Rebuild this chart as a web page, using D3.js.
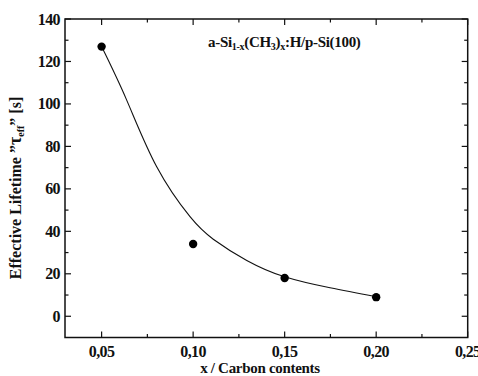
<!DOCTYPE html>
<html><head><meta charset="utf-8">
<script src="https://cdn.jsdelivr.net/npm/d3@7"></script>
<style>
body{margin:0;background:#fff;}
</style></head>
<body><svg id="c" width="478" height="376"></svg>
<script>
// data
const carbonX = [0.05, 0.10, 0.15, 0.20];
const lifetime = [127, 34, 18, 9];
const fitX = [0.05, 0.0637, 0.0801, 0.0983, 0.111, 0.1293, 0.15, 0.1748, 0.20];
const fitY = [127, 101.8, 70.4, 46.9, 36.3, 26.3, 18.6, 13.4, 9.2];
const xTicks = [0.05, 0.10, 0.15, 0.20, 0.25];
const xTickLabels = ["0,05", "0,10", "0,15", "0,20", "0,25"];
const xMinor = [0.075, 0.125, 0.175, 0.225];
const yTicks = [0, 20, 40, 60, 80, 100, 120, 140];
const yMinor = [10, 30, 50, 70, 90, 110, 130];

const FONT = "Liberation Serif";
const svg = d3.select("#c");
const L = 65, R = 467.7, T = 19, B = 337.5;
const x = d3.scaleLinear().domain([0.03, 0.25]).range([L, R]);
const y = d3.scaleLinear().domain([-10, 140]).range([B, T]);

function txt(sel) {
  return sel.attr("font-family", FONT).attr("font-weight", "bold").attr("fill", "#111");
}

// frame
svg.append("rect").attr("x", L).attr("y", T).attr("width", R - L).attr("height", B - T)
  .attr("fill", "none").attr("stroke", "#111").attr("stroke-width", 1.5);

const g = svg.append("g").attr("stroke", "#111").attr("stroke-width", 1.2);
xTicks.forEach(v => {
  g.append("line").attr("x1", x(v)).attr("x2", x(v)).attr("y1", B).attr("y2", B - 6);
  g.append("line").attr("x1", x(v)).attr("x2", x(v)).attr("y1", T).attr("y2", T + 6);
});
xMinor.forEach(v => {
  g.append("line").attr("x1", x(v)).attr("x2", x(v)).attr("y1", B).attr("y2", B - 3.5);
  g.append("line").attr("x1", x(v)).attr("x2", x(v)).attr("y1", T).attr("y2", T + 3.5);
});
yTicks.forEach(v => {
  g.append("line").attr("x1", L).attr("x2", L + 6).attr("y1", y(v)).attr("y2", y(v));
  g.append("line").attr("x1", R).attr("x2", R - 6).attr("y1", y(v)).attr("y2", y(v));
});
yMinor.forEach(v => {
  g.append("line").attr("x1", L).attr("x2", L + 3.5).attr("y1", y(v)).attr("y2", y(v));
  g.append("line").attr("x1", R).attr("x2", R - 3.5).attr("y1", y(v)).attr("y2", y(v));
});

// tick labels
txt(svg.selectAll(".xl").data(xTicks).enter().append("text"))
  .attr("x", d => x(d)).attr("y", 357).attr("text-anchor", "middle")
  .attr("font-size", 16).attr("letter-spacing", -0.6).text((d, i) => xTickLabels[i]);
txt(svg.selectAll(".yl").data(yTicks).enter().append("text"))
  .attr("x", 60).attr("y", d => y(d) + 5.5).attr("text-anchor", "end")
  .attr("font-size", 16).attr("letter-spacing", -0.6).text(d => d);

// axis titles
txt(svg.append("text")).attr("x", 260).attr("y", 373).attr("text-anchor", "middle")
  .attr("font-size", 15).attr("letter-spacing", -0.3).text("x / Carbon contents");

const yt = txt(svg.append("text")).attr("transform", "translate(21,188) rotate(-90)")
  .attr("text-anchor", "middle").attr("font-size", 16);
yt.append("tspan").text("Effective Lifetime  \u201D");
yt.append("tspan").attr("font-size", 18).text("\u03C4");
yt.append("tspan").attr("font-size", 10).attr("dy", 3).text("eff");
yt.append("tspan").attr("dy", -3).text("\u201D  [s]");

// annotation
const an = txt(svg.append("text")).attr("x", 208).attr("y", 47).attr("font-size", 15).attr("letter-spacing", -0.3);
an.append("tspan").text("a-Si");
an.append("tspan").attr("font-size", 10).attr("dy", 3).text("1-x");
an.append("tspan").attr("dy", -3).text("(CH");
an.append("tspan").attr("font-size", 10).attr("dy", 3).text("3");
an.append("tspan").attr("dy", -3).text(")");
an.append("tspan").attr("font-size", 10).attr("dy", 3).text("x");
an.append("tspan").attr("dy", -3).text(":H/p-Si(100)");

// fit curve
const line = d3.line().x(d => x(d[0])).y(d => y(d[1])).curve(d3.curveNatural);
svg.append("path").datum(fitX.map((v, i) => [v, fitY[i]]))
  .attr("d", line).attr("fill", "none").attr("stroke", "#111").attr("stroke-width", 1.1);

// points
svg.selectAll(".pt").data(carbonX).enter().append("circle")
  .attr("cx", d => x(d)).attr("cy", (d, i) => y(lifetime[i])).attr("r", 4.2).attr("fill", "#000");
</script></body></html>
